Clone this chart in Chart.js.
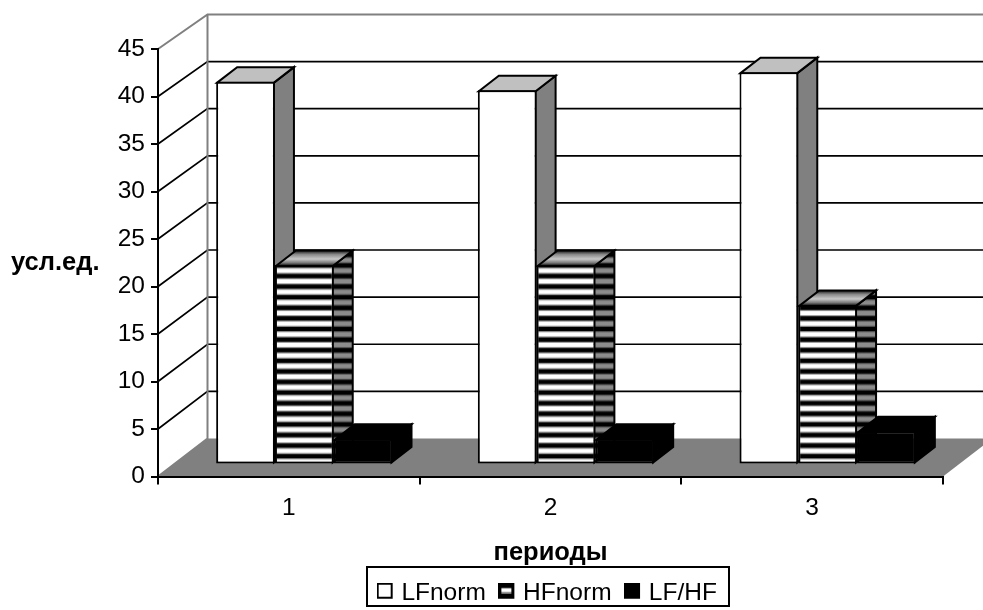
<!DOCTYPE html>
<html><head><meta charset="utf-8">
<style>html,body{margin:0;padding:0;background:#fff}canvas{display:block}</style>
<script src="https://cdn.jsdelivr.net/npm/chart.js@4"></script>
</head><body>
<canvas id="c" width="983" height="610"></canvas>
<script>
const categories = ['1', '2', '3'];
const lfNorm = [40.3, 39.4, 41.3];
const hfNorm = [21, 21, 16.8];
const lfHf = [2.7, 2.7, 3.5];
const seriesNames = ['LFnorm', 'HFnorm', 'LF/HF'];
const yAxisLabel = 'усл.ед.';
const xAxisLabel = 'периоды';
const yMin = 0, yMax = 45, yStep = 5;

const FONT = '"Liberation Sans", Arial, sans-serif';
const GRAY = '#808080';
const DEPTH_X = 49.5, DEPTH_Y = 38, BACK_SCALE = 0.992;
const BAR_SHIFT_X = 15.5, BAR_SHIFT_Y = -12;
const BAR_DX = 20, BAR_DY = -15.5;

function stripes(light, mid) {
  const cv = document.createElement('canvas');
  cv.width = 4; cv.height = 32;
  const g = cv.getContext('2d');
  g.fillStyle = '#000'; g.fillRect(0, 0, 4, 32);
  for (let i = 0; i < 3; i++) {
    const c = (i + 0.5) * 32 / 3;
    g.fillStyle = mid; g.fillRect(0, c - 3.2, 4, 6.4);
    g.fillStyle = light; g.fillRect(0, c - 2, 4, 4);
  }
  const ctx = document.getElementById('c').getContext('2d');
  const p = ctx.createPattern(cv, 'repeat');
  p.setTransform(new DOMMatrix().translate(0, 277.4).scale(1, 31.8 / 32));
  return p;
}
const frontStripe = stripes('#ffffff', '#9a9a9a');
const sideStripe = stripes('#8c8c8c', '#585858');

function keyBox(kind) {
  const cv = document.createElement('canvas');
  cv.width = 20; cv.height = 20;
  const g = cv.getContext('2d');
  g.fillStyle = kind === 2 ? '#000' : '#fff';
  g.fillRect(1, 1, 14, 14);
  if (kind === 1) {
    g.fillStyle = '#000'; g.fillRect(1, 1, 14, 14);
    g.fillStyle = '#999'; g.fillRect(3, 5, 10, 6);
    g.fillStyle = '#fff'; g.fillRect(3, 6, 10, 3);
  }
  g.strokeStyle = '#000'; g.lineWidth = 2;
  g.strokeRect(1, 1, 14, 14);
  return cv;
}
const keyBoxes = [keyBox(0), keyBox(1), keyBox(2)];

const topFill = [ '#c0c0c0', null, '#000000' ];
const sideFill = [ GRAY, sideStripe, '#000000' ];

const walls = {
  id: 'walls',
  beforeDraw(chart) {
    const { ctx, chartArea: a, scales: { y } } = chart;
    const bx = a.left + DEPTH_X;
    const by0 = y.getPixelForValue(yMin) - DEPTH_Y;
    const back = v => by0 + (y.getPixelForValue(v) - y.getPixelForValue(yMin)) * BACK_SCALE;
    ctx.save();
    ctx.fillStyle = GRAY;
    ctx.beginPath();
    ctx.moveTo(a.left, a.bottom);
    ctx.lineTo(a.right, a.bottom);
    ctx.lineTo(a.right + DEPTH_X, by0);
    ctx.lineTo(bx, by0);
    ctx.closePath();
    ctx.fill();
    ctx.strokeStyle = '#000';
    ctx.lineWidth = 1.7;
    for (let v = yMin + yStep; v < yMax; v += yStep) {
      ctx.beginPath();
      ctx.moveTo(a.left, y.getPixelForValue(v));
      ctx.lineTo(bx, back(v));
      ctx.lineTo(chart.width, back(v));
      ctx.stroke();
    }
    ctx.strokeStyle = GRAY;
    ctx.lineWidth = 2;
    ctx.beginPath();
    ctx.moveTo(a.left, y.getPixelForValue(yMax));
    ctx.lineTo(bx, back(yMax));
    ctx.lineTo(chart.width, back(yMax));
    ctx.moveTo(bx, back(yMax));
    ctx.lineTo(bx, by0);
    ctx.lineTo(a.left, a.bottom);
    ctx.stroke();
    ctx.restore();
  },
  // Series are painted left to right so each box overlaps the side of the one before it.
  beforeDatasetsDraw(chart) {
    const { ctx } = chart;
    ctx.save();
    ctx.translate(BAR_SHIFT_X, BAR_SHIFT_Y);
    ctx.strokeStyle = '#000';
    ctx.lineWidth = 2;
    ctx.lineJoin = 'miter';
    chart.data.datasets.forEach((ds, i) => {
      const meta = chart.getDatasetMeta(i);
      meta.data.forEach(bar => {
        const l = bar.x - bar.width / 2 + 1, r = bar.x + bar.width / 2 - 1;
        const t = bar.y + 1, b = bar.base - 1;
        ctx.fillStyle = sideFill[i];
        ctx.beginPath();
        ctx.moveTo(r, t); ctx.lineTo(r + BAR_DX, t + BAR_DY);
        ctx.lineTo(r + BAR_DX, b + BAR_DY); ctx.lineTo(r, b);
        ctx.closePath(); ctx.fill(); ctx.stroke();
        let fill = topFill[i];
        if (!fill) {
          fill = ctx.createLinearGradient(0, t + BAR_DY, 0, t);
          fill.addColorStop(0, '#111'); fill.addColorStop(0.25, '#888');
          fill.addColorStop(0.55, '#c8c8c8'); fill.addColorStop(0.8, '#777');
          fill.addColorStop(1, '#000');
        }
        ctx.fillStyle = fill;
        ctx.beginPath();
        ctx.moveTo(l, t); ctx.lineTo(l + BAR_DX, t + BAR_DY);
        ctx.lineTo(r + BAR_DX, t + BAR_DY); ctx.lineTo(r, t);
        ctx.closePath(); ctx.fill(); ctx.stroke();
      });
      meta.controller.draw();
    });
    ctx.restore();
    return false;
  },
  afterDraw(chart) {
    const { ctx } = chart;
    ctx.save();
    ctx.fillStyle = '#000';
    ctx.font = 'bold 25.5px ' + FONT;
    ctx.textAlign = 'left';
    ctx.textBaseline = 'middle';
    ctx.fillText(yAxisLabel, 11, 263);
    ctx.strokeStyle = '#000';
    ctx.lineWidth = 2;
    ctx.strokeRect(367, 567, 362, 39);
    ctx.restore();
  }
};

new Chart(document.getElementById('c'), {
  type: 'bar',
  plugins: [walls],
  data: {
    labels: categories,
    datasets: [
      { label: seriesNames[0], data: lfNorm, backgroundColor: '#ffffff' },
      { label: seriesNames[1], data: hfNorm, backgroundColor: frontStripe },
      { label: seriesNames[2], data: lfHf, backgroundColor: '#000000' }
    ].map(d => Object.assign(d, {
      borderColor: '#000', borderWidth: 2, borderSkipped: false, inflateAmount: 0,
      clip: false, categoryPercentage: 0.674, barPercentage: 1
    }))
  },
  options: {
    responsive: false,
    animation: false,
    events: [],
    layout: { padding: { left: 0, right: 40, top: 49, bottom: -5 } },
    font: { family: FONT },
    scales: {
      x: {
        offset: true,
        afterFit: s => { s.height = 84; },
        grid: { offset: true, drawOnChartArea: false, color: '#000', lineWidth: 2, tickLength: 8, tickColor: '#000', tickWidth: 2 },
        border: { color: '#000', width: 2 },
        ticks: { color: '#000', padding: 9, maxRotation: 0, font: { family: FONT, size: 24.5 } },
        title: { display: true, text: xAxisLabel, color: '#000', font: { family: FONT, size: 25.5, weight: 'bold' }, padding: { top: 0, bottom: -8 } }
      },
      y: {
        min: yMin, max: yMax,
        afterFit: s => { s.width = 158; },
        grid: { drawOnChartArea: false, color: '#000', lineWidth: 2, tickLength: 7, tickColor: '#000', tickWidth: 2 },
        border: { color: '#000', width: 2 },
        ticks: { stepSize: yStep, color: '#000', padding: 6, font: { family: FONT, size: 24.5 } }
      }
    },
    plugins: {
      tooltip: { enabled: false },
      legend: {
        position: 'bottom',
        fullSize: false,
        labels: {
          usePointStyle: true,
          boxWidth: 5,
          boxHeight: 15,
          padding: 20,
          color: '#000',
          font: { family: FONT, size: 24.5 },
          sort: (a, b) => a.datasetIndex - b.datasetIndex,
          generateLabels: chart => Chart.defaults.plugins.legend.labels.generateLabels(chart)
            .map(it => Object.assign(it, { pointStyle: keyBoxes[it.datasetIndex] }))
        }
      }
    }
  }
});
</script>
</body></html>
